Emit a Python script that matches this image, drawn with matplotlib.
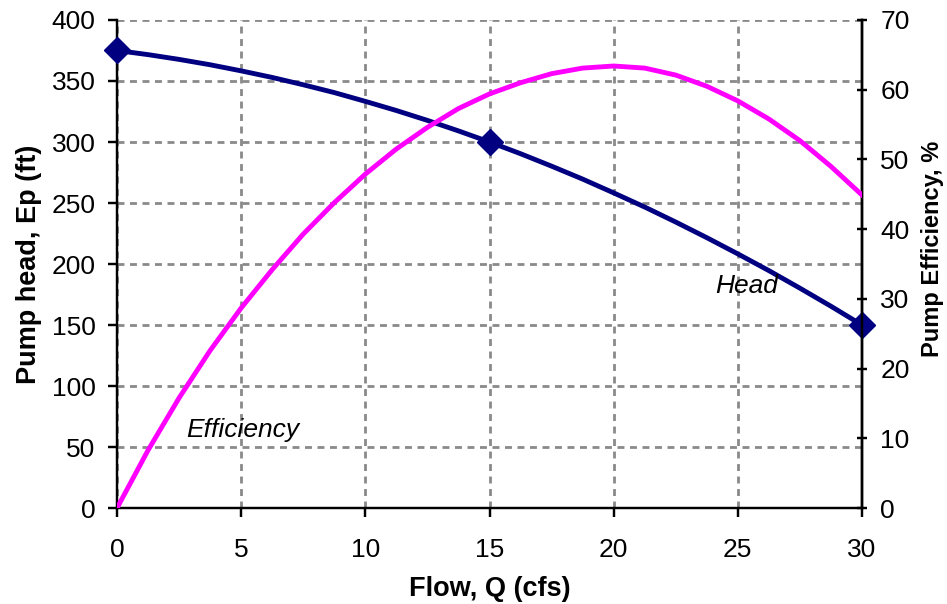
import matplotlib
matplotlib.use("Agg")
import matplotlib.pyplot as plt

plt.rcParams['font.family'] = ['Liberation Sans', 'DejaVu Sans']

# values (every 1.25 cfs)
flow = [0, 1.25, 2.5, 3.75, 5, 6.25, 7.5, 8.75, 10, 11.25, 12.5, 13.75, 15,
        16.25, 17.5, 18.75, 20, 21.25, 22.5, 23.75, 25, 26.25, 27.5, 28.75, 30]
head = [375, 371.6, 367.7, 363.3, 358.3, 352.9, 346.9, 340.5, 333.3, 325.8, 317.7, 309.1, 300,
        290.4, 280.2, 269.6, 258.3, 246.7, 234.4, 221.6, 208.3, 194.6, 180.2, 165.4, 150]
efficiency = [0, 8.3, 15.8, 22.6, 28.7, 34.2, 39.3, 43.8, 47.9, 51.5, 54.6, 57.3, 59.4,
              61.0, 62.3, 63.1, 63.4, 63.1, 62.1, 60.5, 58.4, 55.8, 52.7, 49.0, 44.9]

# measured head points (markers)
head_pts_q = [0, 15, 30]
head_pts_h = [375, 300, 150]

fig = plt.figure(figsize=(9.47, 6.04), dpi=100)
ax = fig.add_axes([0.1236, 0.1589, 0.9102 - 0.1236, 0.9669 - 0.1589])
ax2 = ax.twinx()

ax.plot(flow, head, color='#000080', lw=3.5, zorder=3, solid_joinstyle='round')
ax.plot(head_pts_q, head_pts_h, ls='none', marker='D', ms=13,
        color='#000080', zorder=4, clip_on=False)
ax2.plot(flow, efficiency, color='#FF00FF', lw=3.5, zorder=3, solid_joinstyle='round')

ax.set_xlim(0, 30)
ax.set_ylim(0, 400)
ax2.set_ylim(0, 70)
ax.set_xticks(range(0, 31, 5))
ax.set_yticks(range(0, 401, 50))
ax2.set_yticks(range(0, 71, 10))

ax.grid(True, color='#8a8a8a', ls=(0, (2.5, 2)), lw=2)
ax.set_axisbelow(True)

for a in (ax, ax2):
    a.spines['top'].set_visible(False)
    for s in a.spines.values():
        s.set_linewidth(1.75)
ax2.spines['left'].set_visible(False)
ax2.spines['bottom'].set_visible(False)

ax.tick_params(axis='x', labelsize=19, width=1.75, length=6.5, direction='out', pad=15)
ax.tick_params(axis='y', labelsize=19, width=1.75, length=6.5, direction='out', pad=9)
ax2.tick_params(axis='y', labelsize=19, width=1.75, length=6.5, direction='inout', pad=10)

ax.set_xlabel('Flow, Q (cfs)', fontsize=19.5, fontweight='bold', labelpad=10)
ax.set_ylabel('Pump head, Ep (ft)', fontsize=19.5, fontweight='bold', labelpad=7)
ax2.set_ylabel('Pump Efficiency, %', fontsize=17, fontweight='bold')
ax2.yaxis.set_label_coords(1.079, 0.532)

ax.text(2.8, 58.5, 'Efficiency', fontsize=19, style='italic')
ax.text(24.1, 176.5, 'Head', fontsize=19, style='italic')

fig.savefig('out.png', dpi=100)
